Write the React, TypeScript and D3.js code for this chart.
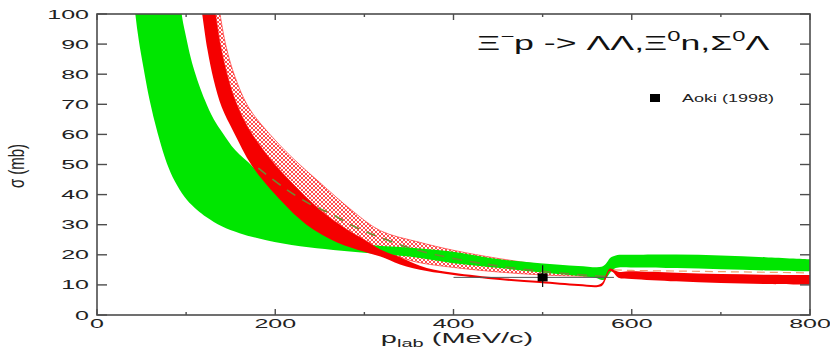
import React from "react";
import * as d3 from "d3";

type Pt = [number, number];

// x-axis ticks (p_lab, MeV/c) and y-axis ticks (sigma, mb)
const xMajorTicks = [0, 200, 400, 600, 800];
const xMinorTicks = [100, 300, 500, 700];
const yTicks = [0, 10, 20, 30, 40, 50, 60, 70, 80, 90, 100];

// Green band boundaries [p, sigma]
const greenUpper: Pt[] = [
  [92, 110], [95, 100], [99, 93.7], [108, 82.4], [121, 71.4], [131, 65], [141, 60.5],
  [155, 54.8], [175, 49.2], [200, 40.5], [235, 31], [270, 26], [300, 23.5], [340, 22.6],
  [393, 21.3], [452, 18.5], [497, 17.2], [540, 16.3], [566, 16], [571, 17], [576, 19],
  [582, 19.8], [600, 20], [650, 20.1], [700, 19.8], [750, 19.2], [800, 18.5],
];
const greenLower: Pt[] = [
  [40, 110], [43, 100], [47, 91], [52, 82.4], [59, 71.4], [68, 60.5], [80, 49.2],
  [90, 43], [101, 38.2], [112, 35], [123, 32.5], [140, 29.5], [160, 27.2], [190, 24.8],
  [228, 22.8], [265, 21.6], [303, 20.6], [350, 19.4], [400, 17.2], [452, 15.6],
  [497, 14.2], [540, 13], [560, 12.3], [567, 11.6], [572, 12.5], [577, 14.5],
  [582, 15.6], [600, 15.8], [650, 15.6], [700, 15.2], [750, 14.8], [800, 14.5],
];

// Red solid band boundaries
const redUpper: Pt[] = [
  [131, 104], [133, 100], [139, 89], [146, 80], [155, 71.4], [170, 62], [194, 52],
  [220, 43.5], [250, 35], [280, 28.5], [300, 25], [318, 21.8], [340, 19.2], [370, 15.6],
  [400, 14], [452, 12.3], [497, 11.3], [540, 10.3], [562, 10], [567, 10.8], [571, 13.3],
  [575, 15.4], [579, 15.2], [585, 14.4], [600, 14.5], [650, 14], [700, 13.6],
  [750, 13.4], [800, 13.3],
];
const redLower: Pt[] = [
  [116, 104], [118, 100], [124, 88], [131, 78], [140, 69], [153, 61], [174, 49.5],
  [200, 40], [235, 30], [270, 24], [300, 21], [318, 19.4], [340, 16.8], [370, 14.6],
  [400, 13.3], [452, 11.6], [497, 10.6], [540, 9.6], [562, 9.3], [567, 9.8], [571, 12],
  [575, 14.6], [579, 14.2], [585, 12.4], [600, 12], [650, 11.2], [700, 10.6],
  [750, 10.3], [800, 10.1],
];

// Red hatched band boundaries
const hatchUpper: Pt[] = [
  [136, 104], [138, 100], [145, 89], [155, 79], [170, 69], [194, 60], [220, 52],
  [250, 44], [285, 35], [318, 28], [360, 24.3], [400, 21.5], [450, 18.8], [500, 16.7],
  [550, 15.2], [568, 14.6],
];
const hatchLower: Pt[] = [
  [131, 104], [133, 100], [139, 89], [146, 80], [155, 71.4], [170, 62], [194, 52],
  [220, 43.5], [250, 35], [280, 28.5], [300, 25], [318, 21.8], [340, 19.2], [360, 17.5],
  [400, 15.8], [450, 14.3], [500, 13.3], [550, 12.8], [568, 12.6],
];

// Dashed central curves
const oliveDashed: Pt[] = [
  [181, 48.8], [211, 42], [238, 37], [262, 33.7], [288, 29.5], [320, 25.5], [360, 21.5],
  [400, 18.8], [450, 16.3], [500, 14.5], [550, 13.2], [572, 12.8],
];
const orangeDashed: Pt[] = [
  [580, 15], [600, 14.8], [650, 14.6], [700, 14.4], [750, 14.2], [800, 14],
];

// Data: Aoki (1998)
const aokiP = [500];
const aokiSigma = [12.5];
const aokiErrLow = [3.2];
const aokiErrHigh = [4.0];
const aokiPLow = [400];
const aokiPHigh = [580];

const W = 830;
const H = 350;
const L = 97, R = 810, T = 14, B = 315;
const FONT = "'Liberation Sans', Arial, Helvetica, sans-serif";

const xs = d3.scaleLinear().domain([0, 800]).range([L, R]);
const ys = d3.scaleLinear().domain([0, 100]).range([B, T]);

const line = d3
  .line<Pt>()
  .x((d) => xs(d[0]))
  .y((d) => ys(d[1]))
  .curve(d3.curveCatmullRom.alpha(0.5));

function band(upper: Pt[], lower: Pt[]): string {
  const a = line(upper) as string;
  const b = line([...lower].reverse()) as string;
  return a + "L" + b.slice(1) + "Z";
}

function SText(props: {
  x: number; y: number; sx: number; size: number; anchor?: string;
  rotate?: number; children: React.ReactNode; fill?: string;
}) {
  const { x, y, sx, size, anchor = "start", rotate = 0, children, fill = "#222" } = props;
  return (
    <text
      transform={`translate(${x},${y}) scale(${sx},1)${rotate ? ` rotate(${rotate})` : ""}`}
      fontFamily={FONT}
      fontSize={size}
      textAnchor={anchor}
      fill={fill}
    >
      {children}
    </text>
  );
}

export default function App() {
  const axisColor = "#4d4d4d";
  return (
    <svg
      width={W}
      height={H}
      style={{ position: "absolute", left: 0, top: 0, background: "#fff" }}
    >
      <defs>
        <clipPath id="plot">
          <rect x={L} y={T} width={R - L} height={B - T} />
        </clipPath>
        <pattern id="hatch" width={4} height={4} patternUnits="userSpaceOnUse">
          <rect width={4} height={4} fill="#fff" />
          <path d="M0,0 L4,4 M4,0 L0,4" stroke="#f22" strokeWidth={0.8} />
        </pattern>
      </defs>

      <g clipPath="url(#plot)">
        <path d={band(hatchUpper, hatchLower)} fill="url(#hatch)" stroke="#f33" strokeWidth={0.7} />
        <path d={band(greenUpper, greenLower)} fill="#00e600" />
        <path d={band(redUpper, redLower)} fill="#f50000" />
        <path d={line(orangeDashed) as string} fill="none" stroke="#f0a070" strokeWidth={1.2} strokeDasharray="8,5" />
        <path d={line(oliveDashed) as string} fill="none" stroke="#6f8a30" strokeWidth={1.6} strokeDasharray="10,8" />

        {aokiP.map((p, i) => (
          <g key={i}>
            <line x1={xs(aokiPLow[i])} x2={xs(aokiPHigh[i])} y1={ys(aokiSigma[i])} y2={ys(aokiSigma[i])} stroke="#555" strokeWidth={1} />
            <line x1={xs(p)} x2={xs(p)} y1={ys(aokiSigma[i] - aokiErrLow[i])} y2={ys(aokiSigma[i] + aokiErrHigh[i])} stroke="#111" strokeWidth={1.2} />
            <rect x={xs(p) - 5} y={ys(aokiSigma[i]) - 4} width={10} height={8} fill="#000" />
          </g>
        ))}
      </g>

      {/* frame */}
      <rect x={L} y={T} width={R - L} height={B - T} fill="none" stroke={axisColor} strokeWidth={1.6} />

      {/* x ticks */}
      {xMajorTicks.map((t) => (
        <g key={"xM" + t}>
          <line x1={xs(t)} x2={xs(t)} y1={B} y2={B - 6} stroke={axisColor} strokeWidth={1.4} />
          <line x1={xs(t)} x2={xs(t)} y1={T} y2={T + 6} stroke={axisColor} strokeWidth={1.4} />
          <SText x={xs(t)} y={328} sx={2} size={12.5} anchor="middle">{t}</SText>
        </g>
      ))}
      {xMinorTicks.map((t) => (
        <g key={"xm" + t}>
          <line x1={xs(t)} x2={xs(t)} y1={B} y2={B - 3} stroke={axisColor} strokeWidth={1.4} />
          <line x1={xs(t)} x2={xs(t)} y1={T} y2={T + 3} stroke={axisColor} strokeWidth={1.4} />
        </g>
      ))}

      {/* y ticks */}
      {yTicks.map((t) => (
        <g key={"y" + t}>
          <line x1={L} x2={L + 10} y1={ys(t)} y2={ys(t)} stroke={axisColor} strokeWidth={1.4} />
          <line x1={R} x2={R - 10} y1={ys(t)} y2={ys(t)} stroke={axisColor} strokeWidth={1.4} />
          <SText x={89} y={ys(t) + 4.5} sx={2} size={12.5} anchor="end">{t}</SText>
        </g>
      ))}

      {/* axis titles */}
      <SText x={457} y={343} sx={2} size={14.5} anchor="middle">
        p<tspan fontSize={10} dy={4}>lab</tspan>
        <tspan dy={-4}> (MeV/c)</tspan>
      </SText>
      <SText x={24} y={166} sx={1.5} size={15} anchor="middle" rotate={-90}>
        σ (mb)
      </SText>

      {/* title */}
      <SText x={477} y={50} sx={1.7} size={21} fill="#111">
        Ξ<tspan fontSize={14} dy={-9}>−</tspan>
        <tspan dy={9}>p -&gt;  ΛΛ,Ξ</tspan>
        <tspan fontSize={14} dy={-9}>0</tspan>
        <tspan dy={9}>n,Σ</tspan>
        <tspan fontSize={14} dy={-9}>0</tspan>
        <tspan dy={9}>Λ</tspan>
      </SText>

      {/* legend */}
      <rect x={650} y={94} width={10} height={8} fill="#000" />
      <SText x={682} y={102} sx={1.8} size={10}>Aoki (1998)</SText>
    </svg>
  );
}
